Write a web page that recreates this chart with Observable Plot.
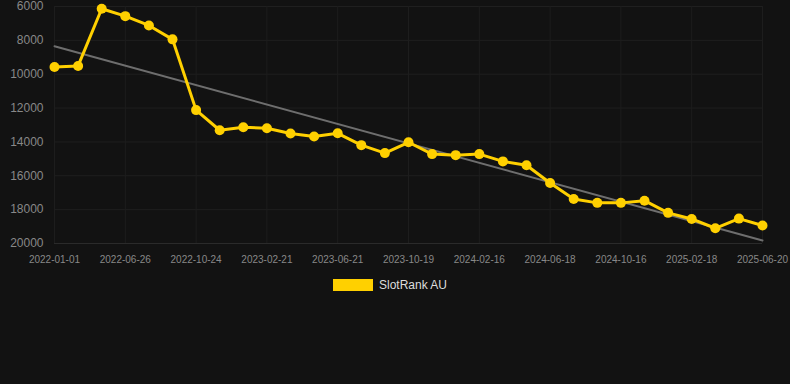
<!DOCTYPE html>
<html><head><meta charset="utf-8">
<script src="https://cdn.jsdelivr.net/npm/d3@7"></script>
<script src="https://cdn.jsdelivr.net/npm/@observablehq/plot@0.6"></script>
<style>
html,body{margin:0;padding:0;background:#121212;width:790px;height:384px;overflow:hidden;font-family:"Liberation Sans",Arial,sans-serif;}
#chart{position:absolute;left:0;top:0;}
#legend{position:absolute;top:278px;left:333px;display:flex;align-items:center;font-size:12px;color:#ddd;}
#legend .sw{width:40px;height:12px;background:#ffd000;margin-right:6px;}
</style>
</head><body>
<div id="chart"></div>
<div id="legend"><div class="sw"></div><span>SlotRank AU</span></div>
<script>
const dates = ["2022-01-01","2022-02-28","2022-04-27","2022-06-26","2022-08-05","2022-09-14","2022-10-24","2022-12-03","2023-01-12","2023-02-21","2023-04-02","2023-05-12","2023-06-21","2023-07-31","2023-09-09","2023-10-19","2023-11-28","2024-01-07","2024-02-16","2024-03-27","2024-05-07","2024-06-18","2024-07-28","2024-09-06","2024-10-16","2024-11-27","2025-01-07","2025-02-18","2025-03-30","2025-05-10","2025-06-20"];
const ranks = [9570,9510,6135,6570,7120,7940,12120,13310,13135,13190,13500,13680,13490,14190,14660,14020,14720,14780,14720,15150,15380,16430,17370,17600,17600,17470,18190,18550,19100,18530,18940];
const xTickLabels = ["2022-01-01","2022-06-26","2022-10-24","2023-02-21","2023-06-21","2023-10-19","2024-02-16","2024-06-18","2024-10-16","2025-02-18","2025-06-20"];
const yTicks = [6000,8000,10000,12000,14000,16000,18000,20000];
const seriesName = "SlotRank AU";

const data = dates.map((d,i)=>({idx:i, date:d, value:ranks[i]}));
const xTickIdx = xTickLabels.map(l=>dates.indexOf(l));
// linear regression over index (uniform spacing)
const n = ranks.length;
const mx = (n-1)/2, my = d3.mean(ranks);
let sxy=0, sxx=0;
ranks.forEach((v,i)=>{sxy+=(i-mx)*(v-my); sxx+=(i-mx)*(i-mx);});
const slope = sxy/sxx, icpt = my - slope*mx;
const trend = [{idx:0, value:icpt},{idx:n-1, value:icpt+slope*(n-1)}];

const chart = Plot.plot({
  width:790, height:270,
  marginLeft:54, marginRight:28, marginTop:6, marginBottom:27,
  style:{background:"#121212", color:"#888", fontFamily:"Liberation Sans, Arial, sans-serif"},
  x:{type:"linear", domain:[0,n-1], label:null},
  y:{domain:[6000,20000], reverse:true, label:null},
  marks:[
    Plot.gridY(yTicks, {stroke:"#1f1f1f", strokeOpacity:1}),
    Plot.gridX(xTickIdx, {stroke:"#1d1d1d", strokeOpacity:1}),
    Plot.ruleY([20000], {stroke:"#2a2a2a"}),
    Plot.axisY(yTicks, {tickSize:0, tickPadding:11, fontSize:12, fill:"#888", tickFormat:d=>String(d), label:null}),
    Plot.axisX(xTickIdx, {tickSize:0, tickPadding:12, fontSize:10, fill:"#888", tickFormat:i=>dates[i], label:null}),
    Plot.line(trend, {x:"idx", y:"value", stroke:"#6e6e6e", strokeWidth:2}),
    Plot.line(data, {x:"idx", y:"value", stroke:"#ffd000", strokeWidth:3}),
    Plot.dot(data, {x:"idx", y:"value", r:5, fill:"#ffd000"})
  ]
});
document.getElementById("chart").appendChild(chart);
</script>
</body></html>
